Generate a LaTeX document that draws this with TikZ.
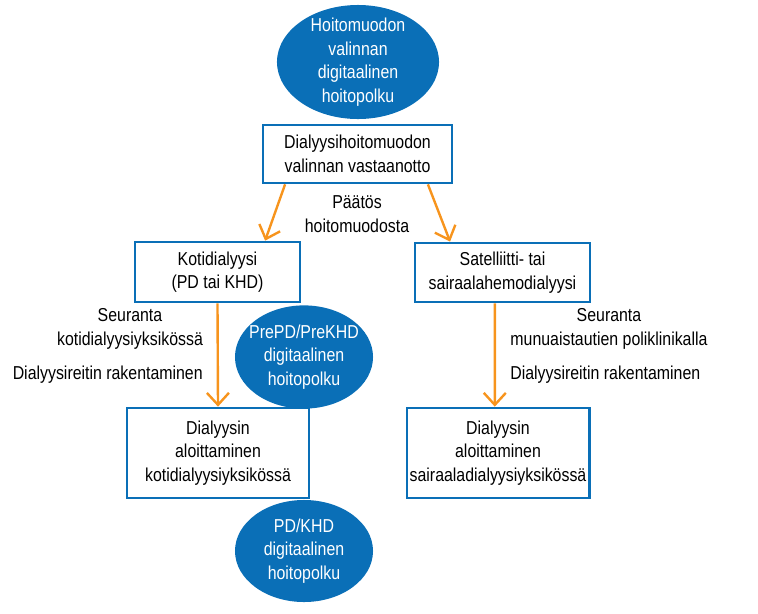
\documentclass[tikz,border=0pt]{standalone}
\usepackage{fontspec}
\setmainfont{Liberation Sans}[FakeStretch=0.85]
\usepackage{xcolor}
\usepackage{tikz}
\usetikzlibrary{arrows.meta,shapes.geometric}

\definecolor{hpblue}{HTML}{0A6FB7}
\definecolor{hporange}{HTML}{F7941D}

\tikzset{
  polku/.style={ellipse, fill=hpblue, draw=none, text=white, align=center, inner xsep=-0.4cm, inner ysep=-0.3cm},
  vaihe/.style={rectangle, draw=hpblue, line width=1.9pt, fill=white, align=center, inner sep=2pt},
  nuoli/.style={draw=hporange, line width=1.7pt, -{Straight Barb[length=0.3cm,width=0.55cm,line width=1.7pt]}},
  selite/.style={align=center, inner sep=0pt}
}

\begin{document}
\begin{tikzpicture}[x=0.025cm, y=-0.025cm, font=\fontsize{13.3}{16.8}\selectfont]
  \useasboundingbox (0,0) rectangle (758,613);

  % digitaaliset hoitopolut
  \node[polku, minimum width=4.05cm, minimum height=2.85cm] (valintapolku) at (358,62)
    {Hoitomuodon\\valinnan\\digitaalinen\\hoitopolku};
  \node[polku, minimum width=3.45cm, minimum height=2.58cm] (prepolku) at (304,357)
    {PrePD/PreKHD\\digitaalinen\\hoitopolku};
  \node[polku, minimum width=3.45cm, minimum height=2.55cm] (pdpolku) at (304,551)
    {PD/KHD\\digitaalinen\\hoitopolku};

  % vaiheet
  \node[vaihe, minimum width=4.73cm, minimum height=1.45cm] (vastaanotto) at (357.5,154)
    {Dialyysihoitomuodon\\valinnan vastaanotto};
  \node[vaihe, minimum width=4.13cm, minimum height=1.5cm] (koti) at (217.5,272)
    {Kotidialyysi\\(PD tai KHD)};
  \node[vaihe, minimum width=4.38cm, minimum height=1.48cm] (sairaala) at (502.5,272.5)
    {Satelliitti- tai\\sairaalahemodialyysi};
  \node[vaihe, minimum width=4.55cm, minimum height=2.25cm] (kotialku) at (218,453)
    {Dialyysin\\aloittaminen\\kotidialyysiyksikössä};
  \node[vaihe, minimum width=4.55cm, minimum height=2.25cm] (sairaalaalku) at (498,453)
    {Dialyysin\\aloittaminen\\sairaaladialyysiyksikössä};

  % nuolet
  \draw[nuoli] ([xshift=-1.81cm]vastaanotto.south) -- ([xshift=1.19cm]koti.north);
  \draw[nuoli] ([xshift=1.76cm]vastaanotto.south) -- ([xshift=-1.31cm]sairaala.north);
  \draw[nuoli] (koti.south) -- (kotialku.north);
  \draw[nuoli] ([xshift=-0.19cm]sairaala.south) -- ([xshift=-0.08cm]sairaalaalku.north);

  % selitteet
  \node[selite] (paatos) at (357,214) {Päätös\\hoitomuodosta};
  \node[selite] (kotiseuranta) at (130,329) {Seuranta\\kotidialyysiyksikössä};
  \node[selite, anchor=east] (kotireitti) at (203,375) {Dialyysireitin rakentaminen};
  \node[selite] (poliseuranta) at (609,329) {Seuranta\\munuaistautien poliklinikalla};
  \node[selite, anchor=west] (polireitti) at (510,375) {Dialyysireitin rakentaminen};
\end{tikzpicture}
\end{document}
